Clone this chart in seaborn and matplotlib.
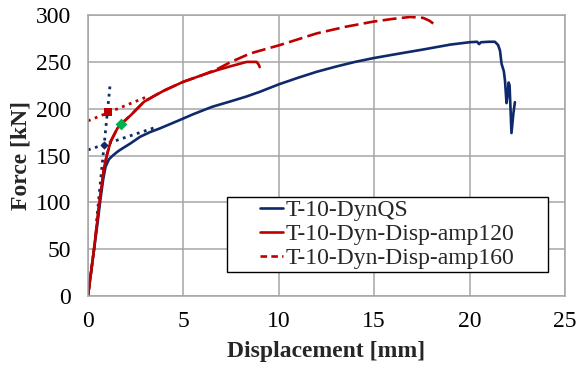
import numpy as np
import pandas as pd
import matplotlib
matplotlib.use("Agg")
import matplotlib.pyplot as plt
from matplotlib.ticker import MultipleLocator
from matplotlib.patches import Rectangle
from matplotlib.lines import Line2D
import seaborn as sns

# ---------------- data ----------------
qs_x = [0, 0.3, 0.5, 0.65, 0.8, 0.92, 1.1, 1.3, 1.54, 1.68, 2.23, 2.73, 3.25, 3.77,
        4.82, 5.5, 6.5, 7.5, 8.3, 9.0, 10.0, 11.0, 12.0, 13.0, 14.0, 14.95, 16.35,
        17.5, 19.0, 20.0, 20.4, 20.5, 20.6, 21.0, 21.33, 21.5, 21.6, 21.68, 21.8,
        21.86, 21.94, 22.0, 22.05, 22.1, 22.15, 22.2, 22.3, 22.38]
qs_y = [0, 47, 78, 103, 125, 138, 146, 150, 154, 156, 163, 170, 175, 179,
        188, 194, 202, 208, 213, 218, 226, 233, 239.5, 245, 250, 254, 259,
        263, 268.5, 271, 271.5, 269, 271, 271.5, 271.5, 268, 262, 248, 240,
        230, 206, 215, 228, 225, 200, 174, 195, 207]

a120_x = [0, 0.31, 0.61, 0.85, 1.01, 1.19, 1.54, 1.75, 2.24, 2.94, 3.5, 4.0, 5.0,
          6.0, 6.74, 7.5, 8.32, 8.84, 8.95, 9.0]
a120_y = [0, 49, 102, 138, 152, 165, 179, 184, 193, 207.5, 214, 219.5, 228.8,
          236, 241, 245.5, 250, 250, 247, 244.5]

a160_x = [0, 0.31, 0.61, 0.85, 1.01, 1.19, 1.54, 1.75, 2.24, 2.94, 3.5, 4.0, 5.0,
          6.0, 6.74, 7.5, 8.5, 10.06, 12.0, 13.5, 14.95, 16.0, 16.9, 17.57, 17.9, 18.1]
a160_y = [0, 49, 102, 138, 152, 165, 179, 184, 193, 207.5, 214, 219.5, 228.8,
          236, 242, 250, 259, 268, 280.5, 287.5, 293, 296, 298, 297, 294, 291]

# construction lines (yield point estimation)
qs_steep_x = [0.45, 1.17]
qs_steep_y = [80, 228]
qs_flat_x = [0, 3.6]
qs_flat_y = [156, 180.5]
r_flat_x = [0, 3.0]
r_flat_y = [187, 212]

# markers
sq_x, sq_y = [1.05], [196.5]
bd_x, bd_y = [0.84], [161.5]
gd_x, gd_y = [1.75], [184]

labels = ["T-10-DynQS", "T-10-Dyn-Disp-amp120", "T-10-Dyn-Disp-amp160"]
x_ticks = [0, 5, 10, 15, 20, 25]
y_ticks = [0, 50, 100, 150, 200, 250, 300]

# ---------------- style ----------------
sns.set_theme(style="white")
plt.rcParams['font.family'] = ['Liberation Serif', 'DejaVu Serif']

navy = "#0E2A6B"
red = "#C00000"
green = "#00B050"
grid_c = "#A6A6A6"
FS = 17
dash = (0, (5.3, 2.0))

fig = plt.figure(figsize=(5.77, 3.68), dpi=100)
ax = fig.add_axes([0.1525, 0.1957, 0.8265, 0.7633])

ax.grid(True, which="major", color=grid_c, linewidth=1.1)
ax.set_axisbelow(True)

# dotted construction lines
sns.lineplot(x=qs_steep_x, y=qs_steep_y, ax=ax, color=navy, linestyle=":",
             linewidth=2.0, sort=False, estimator=None)
sns.lineplot(x=qs_flat_x, y=qs_flat_y, ax=ax, color=navy, linestyle=":",
             linewidth=2.0, sort=False, estimator=None)
sns.lineplot(x=r_flat_x, y=r_flat_y, ax=ax, color=red, linestyle=":",
             linewidth=2.0, sort=False, estimator=None)

# main curves
sns.lineplot(x=a160_x, y=a160_y, ax=ax, color=red, linewidth=1.9,
             sort=False, estimator=None, linestyle=dash)
sns.lineplot(x=qs_x, y=qs_y, ax=ax, color=navy, linewidth=1.9,
             sort=False, estimator=None)
sns.lineplot(x=a120_x, y=a120_y, ax=ax, color=red, linewidth=1.9,
             sort=False, estimator=None)

# markers
sns.scatterplot(x=sq_x, y=sq_y, ax=ax, color=red, marker="s", s=40, linewidth=0, zorder=5)
sns.scatterplot(x=bd_x, y=bd_y, ax=ax, color=navy, marker="D", s=18, linewidth=0, zorder=5)
sns.scatterplot(x=gd_x, y=gd_y, ax=ax, color=green, marker="D", s=36, linewidth=0, zorder=5)

ax.set_xlim(0, 25)
ax.set_ylim(0, 300)
ax.set_xticks(x_ticks)
ax.set_yticks(y_ticks)
ax.xaxis.set_minor_locator(MultipleLocator(1))
ax.yaxis.set_minor_locator(MultipleLocator(10))
ax.tick_params(axis="both", which="major", direction="out", length=6, width=1.1,
               color=grid_c, labelsize=FS, labelcolor="black")
ax.tick_params(axis="both", which="minor", direction="in", length=4, width=1.0,
               color=grid_c)
ax.tick_params(axis="x", pad=5)
ax.tick_params(axis="y", pad=6)

for s in ["top", "right", "left", "bottom"]:
    ax.spines[s].set_visible(True)
    ax.spines[s].set_color(grid_c)
    ax.spines[s].set_linewidth(1.1)

ax.set_xlabel("Displacement [mm]", fontsize=FS, fontweight="bold", labelpad=6)
ax.set_ylabel("Force [kN]", fontsize=FS, fontweight="bold", labelpad=3)

# legend box
rect = Rectangle((0.291, 0.085), 0.673, 0.267, transform=ax.transAxes,
                 facecolor="white", edgecolor="black", linewidth=1.0, zorder=8)
ax.add_patch(rect)
handles = [Line2D([], [], color=navy, linewidth=1.9),
           Line2D([], [], color=red, linewidth=1.9),
           Line2D([], [], color=red, linewidth=1.9, linestyle=(0, (2.5, 1.6)))]
leg = ax.legend(handles, labels, loc="upper left", bbox_to_anchor=(0.36, 0.343),
                frameon=False, fontsize=FS, borderpad=0.0, borderaxespad=0.0,
                handlelength=1.0, handletextpad=0.1, labelspacing=0.1)
leg.set_zorder(9)

fig.savefig("out.png", dpi=100)
